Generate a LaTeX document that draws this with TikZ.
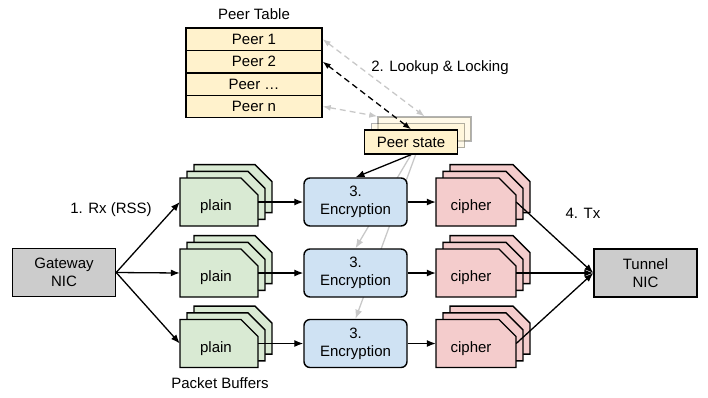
\documentclass[tikz,border=0pt]{standalone}
\usepackage{fontspec}
\setmainfont{Liberation Sans}
\usetikzlibrary{arrows.meta}
\pgfdeclarelayer{background}
\pgfsetlayers{background,main}

\definecolor{plainfill}{HTML}{D9EAD3}
\definecolor{cipherfill}{HTML}{F4CCCC}
\definecolor{encfill}{HTML}{CFE2F3}
\definecolor{peerfill}{HTML}{FFF2CC}
\definecolor{nicfill}{HTML}{CCCCCC}
\definecolor{faintline}{HTML}{C8C8C8}

\tikzset{
  every node/.style={font=\fontsize{15}{18}\selectfont, inner sep=0pt, align=center},
  boxline/.style={draw=black, line width=1.4pt},
  sheetline/.style={draw=black, line width=1.4pt, line join=miter},
  nicbox/.style={boxline, fill=nicfill, minimum width=103pt, minimum height=48pt},
  encbox/.style={boxline, fill=encfill, rounded corners=6pt, minimum width=103pt, minimum height=48pt},
  peerrow/.style={boxline, fill=peerfill, minimum width=136pt, minimum height=22.4pt},
  statebox/.style={boxline, fill=peerfill, minimum width=93pt, minimum height=24pt},
  ghostbox/.style={statebox, draw opacity=0.3, fill opacity=0.45},
  flow/.style={line width=1.3pt, -{Latex[length=9pt,width=7pt]}},
  grayflow/.style={line width=1.3pt, draw=faintline, -{Latex[length=9pt,width=7pt]}, color=faintline},
  lookup/.style={line width=1.3pt, dash pattern=on 6pt off 4pt,
                 {Latex[length=8pt,width=6pt]}-{Latex[length=8pt,width=6pt]}},
}

% one sheet with a cut top-right corner: centre x, centre y, width, height, fill
\newcommand\sheetshape[5]{%
  \filldraw[sheetline, fill=#5]
    ({#1-#3/2},{#2-#4/2}) -- ({#1+#3/2-17},{#2-#4/2}) -- ({#1+#3/2},{#2-#4/2+17})
    -- ({#1+#3/2},{#2+#4/2}) -- ({#1-#3/2},{#2+#4/2}) -- cycle;}

% a stack of three sheets: name, centre x, centre y, width, fill, text, text shift
\newcommand\sheetstack[7]{%
  \sheetshape{#2+14}{#3-13.4}{#4}{48}{#5}
  \sheetshape{#2+7}{#3-6.7}{#4}{48}{#5}
  \sheetshape{#2}{#3}{#4}{48}{#5}
  \node[minimum width=#4pt, minimum height=48pt] (#1) at (#2,#3) {};
  \node (#1-text) at (#2+#7,#3+5) {#6};
}

\begin{document}
\begin{tikzpicture}[x=1pt, y=-1pt]
\useasboundingbox (0,0) rectangle (708,397);

% peer table
\node (tabletitle) at (254,14) {Peer Table};
\node[peerrow] (t1) at (254,39.2) {Peer 1};
\node[peerrow] (t2) at (254,61.6) {Peer 2};
\node[peerrow] (t3) at (254,84) {Peer \dots};
\node[peerrow] (tn) at (254,106.4) {Peer n};

% per-peer state, with its faded copies
\node[ghostbox] (ps3) at (424.5,129) {};
\node[ghostbox] (ps2) at (418,135.5) {};
\node[statebox] (ps1) at (411,142) {Peer state};

\node (lookuptext) at (440,68) {2. Lookup \& Locking};

% NICs
\node[nicbox] (gw) at (64,272.5) {Gateway\\NIC};
\node[nicbox] (tun) at (645.5,273) {Tunnel\\NIC};

% packet buffers
\sheetstack{p1}{219}{202}{78}{plainfill}{plain}{-3}
\sheetstack{p2}{219}{273}{78}{plainfill}{plain}{-3}
\sheetstack{p3}{219}{343.5}{78}{plainfill}{plain}{-3}
\sheetstack{c1}{476}{202}{80}{cipherfill}{cipher}{-5}
\sheetstack{c2}{476}{273}{80}{cipherfill}{cipher}{-5}
\sheetstack{c3}{476}{343.5}{80}{cipherfill}{cipher}{-5}

% encryption workers
\node[encbox] (e1) at (355.5,202) {3.\\Encryption};
\node[encbox] (e2) at (355.5,273) {3.\\Encryption};
\node[encbox] (e3) at (355.5,343.5) {3.\\Encryption};

% labels
\node (rxtext) at (111,210) {1. Rx (RSS)};
\node (txtext) at (583,213) {4. Tx};
\node (buftext) at (220,383) {Packet Buffers};

% faint lookups and state hand-offs, behind the boxes
\begin{pgfonlayer}{background}
  \draw[lookup, draw=faintline, color=faintline] (t1.east) -- (ps3.north);
  \draw[lookup, draw=faintline, color=faintline] (tn.east) -- (ps3.north west);
  \draw[grayflow] (ps1.south) -- (e2.north);
  \draw[grayflow] (ps2.south) -- (e3.north);
\end{pgfonlayer}

% the traced lookup
\draw[lookup] (t2.east) -- (ps1.north);
\draw[flow] (ps1.south) -- (e1.north);

% receive
\draw[flow] (gw.east) -- (p1.west);
\draw[flow] (gw.east) -- (p2.west);
\draw[flow] (gw.east) -- (p3.west);

% encrypt
\foreach \i in {1,2,3} {
  \draw[flow] (p\i.east) -- (e\i.west);
  \draw[flow] (e\i.east) -- (c\i.west);
  \draw[flow] (c\i.east) -- (tun.west);
}
\end{tikzpicture}
\end{document}
